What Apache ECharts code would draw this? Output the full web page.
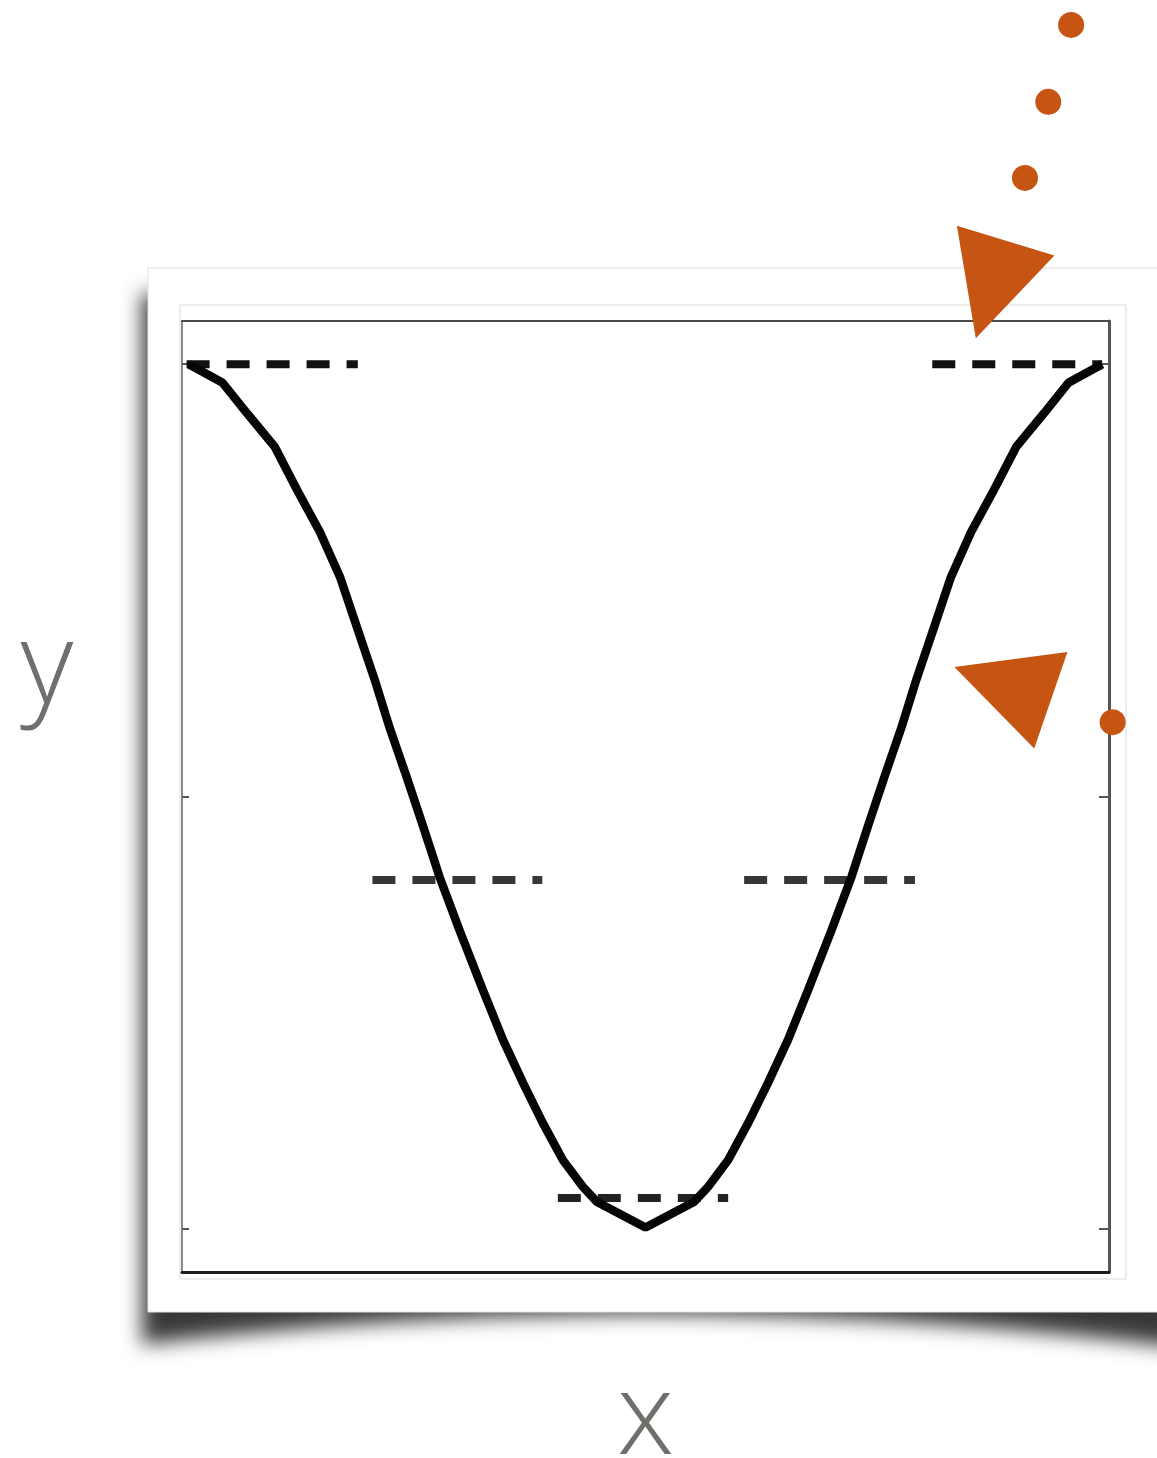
<!DOCTYPE html>
<html>
<head>
<meta charset="utf-8">
<script src="https://cdn.jsdelivr.net/npm/echarts@6/dist/echarts.min.js"></script>
<style>
  html, body { margin: 0; padding: 0; background: #fff; }
  #chart { width: 1157px; height: 1458px; }
</style>
</head>
<body>
<div id="chart"></div>
<script>
// curve, left to right
const curveX = [-1.000, -0.926, -0.873, -0.812, -0.763, -0.713, -0.669, -0.632, -0.593, -0.560, -0.523,
  -0.487, -0.451, -0.406, -0.356, -0.312, -0.268, -0.225, -0.181, -0.137, -0.106, -0.056, 0.000,
  0.056, 0.106, 0.137, 0.181, 0.225, 0.268, 0.312, 0.356, 0.406, 0.451, 0.487, 0.523,
  0.560, 0.593, 0.632, 0.669, 0.713, 0.763, 0.812, 0.873, 0.926, 1.000];
const curveY = [1.000, 0.957, 0.887, 0.809, 0.709, 0.612, 0.508, 0.392, 0.270, 0.158, 0.045,
  -0.069, -0.186, -0.313, -0.448, -0.563, -0.663, -0.755, -0.841, -0.903, -0.938, -0.966, -0.997,
  -0.966, -0.938, -0.903, -0.841, -0.755, -0.663, -0.563, -0.448, -0.313, -0.186, -0.069, 0.045,
  0.158, 0.270, 0.392, 0.508, 0.612, 0.709, 0.809, 0.887, 0.957, 1.000];

// dashed level segments
const dashStart = [-1.005, 0.628, -0.598, 0.216, -0.192];
const dashEnd = [-0.630, 1.000, -0.226, 0.590, 0.181];
const dashLevel = [1.0, 1.0, -0.193, -0.193, -0.929];

// orange marks outside the frame
const dotX = [0.932, 0.882, 0.831, 1.023];
const dotY = [1.785, 1.607, 1.431, 0.172];
const triX = [0.756, 0.782];
const triY = [1.173, 0.261];
const triAngle = [163, 71];

const yTicks = [-1, 0, 1];

const chart = echarts.init(document.getElementById('chart'));

const orange = '#c65513';
const nameColor = '#6f6f6b';
const nameFont = 'Open Sans';

// soft curved shadow under the card (shape sits off canvas, only its shadow shows)
function shadowPoints(shift) {
  const pts = [[142 + shift, 294]];
  for (let i = 0; i <= 24; i++) {
    const x = 142 + i * (1180 - 142) / 24;
    const t = (x - 650) / 520;
    pts.push([x + shift, 1314 + 32 * t * t]);
  }
  pts.push([1180 + shift, 294]);
  return pts;
}

const dashSeries = dashStart.map((x0, i) => ({
  type: 'line',
  data: [[x0, dashLevel[i]], [dashEnd[i], dashLevel[i]]],
  showSymbol: false,
  silent: true,
  z: 3,
  lineStyle: {
    color: i < 2 ? '#111' : (i < 4 ? '#363636' : '#222'),
    width: 8,
    type: [23, 17],
    cap: 'butt'
  }
}));

const hiddenAxis = {
  axisTick: { show: false },
  axisLabel: { show: false },
  splitLine: { show: false }
};

chart.setOption({
  animation: false,
  backgroundColor: '#fff',
  grid: { left: 182, right: 48, top: 321, bottom: 186, outerBoundsMode: 'none', containLabel: false },
  graphic: [
    {
      type: 'polygon', z: -10, silent: true,
      shape: { points: shadowPoints(-3000) },
      style: { fill: '#000', shadowBlur: 20, shadowColor: 'rgba(0,0,0,0.78)', shadowOffsetX: 3000 }
    },
    {
      type: 'rect', z: -9, silent: true,
      shape: { x: 148, y: 268, width: 1030, height: 1044 },
      style: { fill: '#fff', stroke: '#e2e2e2', lineWidth: 1 }
    },
    {
      type: 'rect', z: -8, silent: true,
      shape: { x: 180, y: 305, width: 946, height: 974 },
      style: { fill: 'none', stroke: '#e8e8e8', lineWidth: 1.5 }
    },
    {
      type: 'text', z: 5, silent: true,
      style: {
        text: 'y', x: 47, y: 670, align: 'center', verticalAlign: 'middle',
        fontFamily: nameFont, fontWeight: 300, fontSize: 115, fill: nameColor
      }
    }
  ],
  xAxis: [
    {
      type: 'value', min: -1.015, max: 1.015, position: 'bottom',
      name: 'x', nameLocation: 'middle', nameGap: 92,
      nameTextStyle: { fontFamily: nameFont, fontWeight: 300, fontSize: 115, color: nameColor },
      axisLine: { show: true, onZero: false, lineStyle: { color: '#1c1c1c', width: 3 } },
      ...hiddenAxis
    },
    {
      type: 'value', min: -1.015, max: 1.015, position: 'top',
      axisLine: { show: true, onZero: false, lineStyle: { color: '#4a4a4a', width: 2 } },
      ...hiddenAxis
    }
  ],
  yAxis: [
    {
      type: 'value', min: -1.1, max: 1.1, position: 'left',
      axisLine: { show: true, onZero: false, lineStyle: { color: '#8a8a8a', width: 2 } },
      axisTick: { show: true, inside: true, length: 7, customValues: yTicks, lineStyle: { color: '#555', width: 2 } },
      axisLabel: { show: false },
      splitLine: { show: false }
    },
    {
      type: 'value', min: -1.1, max: 1.1, position: 'right',
      axisLine: { show: true, onZero: false, lineStyle: { color: '#555', width: 3 } },
      axisTick: { show: true, inside: true, length: 10, customValues: yTicks, lineStyle: { color: '#555', width: 2 } },
      axisLabel: { show: false },
      splitLine: { show: false }
    }
  ],
  series: [
    {
      type: 'line',
      data: curveX.map((x, i) => [x, curveY[i]]),
      showSymbol: false,
      silent: true,
      z: 4,
      lineStyle: { color: '#050505', width: 8.5 }
    },
    ...dashSeries,
    {
      type: 'scatter',
      data: dotX.map((x, i) => [x, dotY[i]]),
      symbol: 'circle',
      symbolSize: 26,
      clip: false,
      z: 6,
      itemStyle: { color: orange, opacity: 1 }
    },
    {
      type: 'scatter',
      data: triX.map((x, i) => ({ value: [x, triY[i]], symbolRotate: triAngle[i] })),
      symbol: 'triangle',
      symbolSize: 102,
      clip: false,
      z: 6,
      itemStyle: { color: orange, opacity: 1 }
    }
  ]
});
</script>
</body>
</html>
